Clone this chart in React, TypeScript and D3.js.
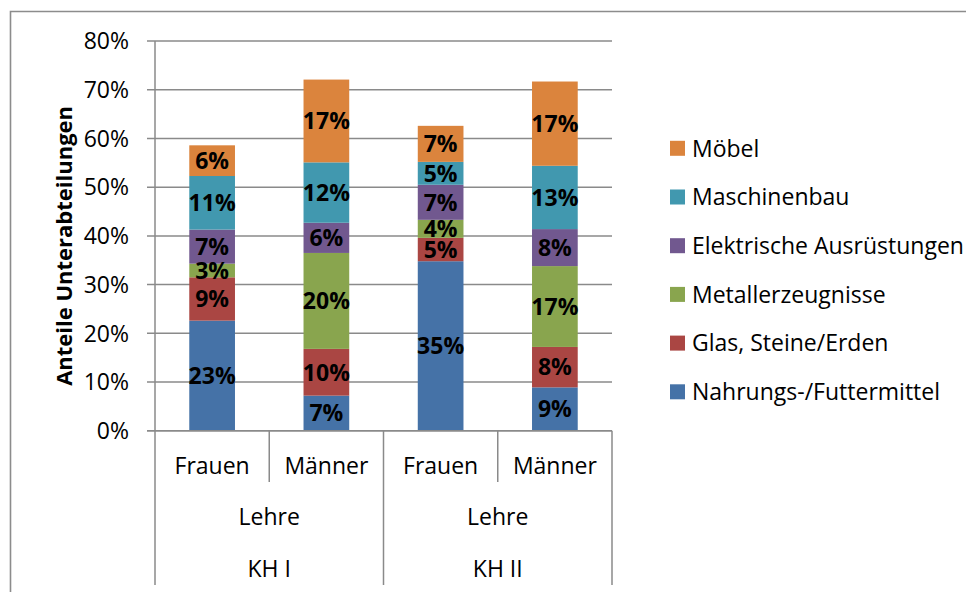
import React from "react";
import * as d3 from "d3";

const categories = ["Frauen", "Männer", "Frauen", "Männer"];
const level2 = ["Lehre", "Lehre"];
const level3 = ["KH I", "KH II"];
const seriesNames = [
  "Nahrungs-/Futtermittel",
  "Glas, Steine/Erden",
  "Metallerzeugnisse",
  "Elektrische Ausrüstungen",
  "Maschinenbau",
  "Möbel",
];
const seriesColors = ["#4572A7", "#AA4643", "#89A54E", "#71588F", "#4198AF", "#DB843D"];
const nahrung = [0.226, 0.072, 0.348, 0.089];
const glas = [0.089, 0.096, 0.048, 0.083];
const metall = [0.028, 0.197, 0.037, 0.166];
const elektrisch = [0.07, 0.062, 0.072, 0.076];
const maschinen = [0.11, 0.124, 0.047, 0.13];
const moebel = [0.063, 0.17, 0.074, 0.173];
const yTicks = [0, 0.1, 0.2, 0.3, 0.4, 0.5, 0.6, 0.7, 0.8];
const yTitle = "Anteile Unterabteilungen";

const FONT = "'Open Sans', 'Noto Sans', sans-serif";
const GRID = "#8a8a8a";

export default function App() {
  const W = 966, H = 592;
  const left = 155, right = 612, top = 41.1, bottom = 430.7;
  const y = d3.scaleLinear().domain([0, 0.8]).range([bottom, top]);
  const idx = categories.map((_, i) => i);
  const x = d3.scaleBand<number>().domain(idx).range([left, right]).paddingInner(0.6).paddingOuter(0.3);
  const step = x.step();
  const values = [nahrung, glas, metall, elektrisch, maschinen, moebel];
  const rows = idx.map((i) => {
    const r: any = { i };
    seriesNames.forEach((s, k) => (r[s] = values[k][i]));
    return r;
  });
  const stacked = d3.stack<any>().keys(seriesNames)(rows);
  const fmt = d3.format(".0%");
  const catLeft = (i: number) => left + i * step;
  const fs = 23;

  return (
    <svg width={W} height={H} style={{ position: "absolute", left: 0, top: 0, background: "#fff" }} fontFamily={FONT}>
      <rect x={0} y={0} width={W} height={H} fill="#fff" />
      {/* outer border */}
      <path d={`M10.5,${H + 2} V11.5 H${W + 2}`} fill="none" stroke="#8c8c8c" strokeWidth={1.6} />
      {/* gridlines & ticks */}
      {yTicks.map((t) => (
        <g key={t}>
          <line x1={147} x2={right} y1={y(t)} y2={y(t)} stroke={GRID} strokeWidth={1.5} />
          <text x={129} y={y(t)} dy="0.36em" textAnchor="end" fontSize={fs} fill="#000">
            {fmt(t)}
          </text>
        </g>
      ))}
      {/* y axis */}
      <line x1={left} x2={left} y1={top} y2={585} stroke={GRID} strokeWidth={1.5} />
      <text
        transform={`translate(64,${(top + bottom) / 2 + 10}) rotate(-90)`}
        textAnchor="middle"
        dy="0.36em"
        fontSize={22}
        fontWeight="bold"
        fill="#000"
      >
        {yTitle}
      </text>
      {/* bars */}
      {stacked.map((s, k) => (
        <g key={s.key} fill={seriesColors[k]}>
          {s.map((d, i) => (
            <rect key={i} x={x(i)} width={x.bandwidth()} y={y(d[1])} height={y(d[0]) - y(d[1])} />
          ))}
        </g>
      ))}
      {stacked.map((s, k) => (
        <g key={"l" + s.key}>
          {s.map((d, i) => (
            <text
              key={i}
              x={(x(i) as number) + x.bandwidth() / 2}
              y={(y(d[0]) + y(d[1])) / 2}
              dy="0.36em"
              textAnchor="middle"
              fontSize={fs}
              fontWeight="bold"
              fill="#000"
            >
              {fmt(d[1] - d[0])}
            </text>
          ))}
        </g>
      ))}
      {/* category axis */}
      <line x1={147} x2={right} y1={bottom} y2={bottom} stroke={GRID} strokeWidth={1.5} />
      {idx.map((i) => (
        <line
          key={"sep" + i}
          x1={catLeft(i + 1)}
          x2={catLeft(i + 1)}
          y1={bottom}
          y2={i % 2 === 0 ? 482 : 585}
          stroke={GRID}
          strokeWidth={1.5}
        />
      ))}
      {categories.map((c, i) => (
        <text key={"c" + i} x={catLeft(i) + step / 2} y={474} textAnchor="middle" fontSize={fs} fill="#000">
          {c}
        </text>
      ))}
      {level2.map((c, g) => (
        <text key={"l2" + g} x={catLeft(2 * g) + step} y={525} textAnchor="middle" fontSize={fs} fill="#000">
          {c}
        </text>
      ))}
      {level3.map((c, g) => (
        <text key={"l3" + g} x={catLeft(2 * g) + step} y={577} textAnchor="middle" fontSize={fs} fill="#000">
          {c}
        </text>
      ))}
      {/* legend */}
      {seriesNames
        .slice()
        .reverse()
        .map((s, j) => {
          const k = seriesNames.indexOf(s);
          const cy = 148.3 + j * 48.7;
          return (
            <g key={"lg" + s}>
              <rect x={670} y={cy - 7.5} width={15} height={15} fill={seriesColors[k]} />
              <text x={692} y={cy} dy="0.36em" fontSize={fs} fill="#000">
                {s}
              </text>
            </g>
          );
        })}
    </svg>
  );
}
